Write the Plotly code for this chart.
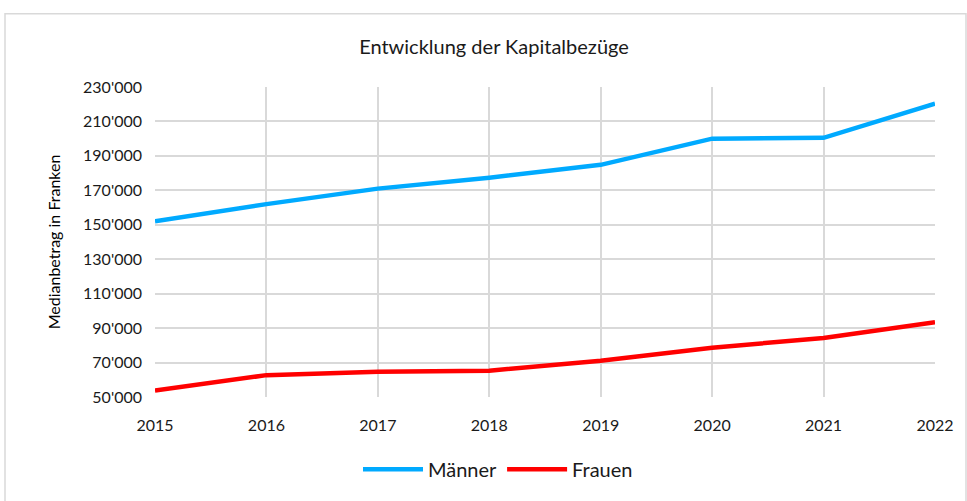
import plotly.graph_objects as go

years = [2015, 2016, 2017, 2018, 2019, 2020, 2021, 2022]
maenner = [152000, 162000, 171000, 177300, 184800, 200000, 200500, 220300]
frauen = [53700, 62700, 64600, 65300, 71000, 78600, 84300, 93400]
y_ticks = list(range(50000, 230001, 20000))

font = "Lato, Open Sans, Arial"

fig = go.Figure()
fig.add_trace(go.Scatter(x=years, y=maenner, mode="lines", name="Männer",
                         line=dict(color="#00AAFF", width=4.5)))
fig.add_trace(go.Scatter(x=years, y=frauen, mode="lines", name="Frauen",
                         line=dict(color="#FF0000", width=4.5)))

L, R, T, B = 155, 32, 87, 101
W, H = 967, 501
pw, ph = W - L - R, H - T - B

fig.update_layout(
    width=W, height=H,
    margin=dict(l=L, r=R, t=T, b=B),
    paper_bgcolor="white", plot_bgcolor="white",
    separators=".'",
    font=dict(family=font, size=16, color="#1a1a1a"),
    title=dict(text="Entwicklung der Kapitalbezüge", x=494 / W, xanchor="center", xref="container",
               y=1 - 47 / H, yanchor="middle", font=dict(size=20, color="#1a1a1a")),
    showlegend=True,
    legend=dict(orientation="h", x=(498 - L) / pw, xanchor="center",
                y=-(473 - 400) / ph, yanchor="middle", font=dict(size=20),
                itemwidth=60),
    xaxis=dict(range=[2015, 2022], tickvals=years, showgrid=True, gridcolor="#D9D9D9",
               gridwidth=1.5, zeroline=False, showline=False, ticks="",
               ticklabelstandoff=17, tickfont=dict(size=16)),
    yaxis=dict(range=[50000, 230000], tickvals=y_ticks, tickformat=",d", showgrid=True,
               gridcolor="#D9D9D9", gridwidth=1.5, zeroline=False, ticks="",
               ticklabelstandoff=12, tickfont=dict(size=16),
               title=dict(text="Medianbetrag in Franken", font=dict(size=16, color="black"), standoff=18)),
    shapes=[dict(type="rect", xref="paper", yref="paper",
                 x0=(5 - L) / pw, x1=(966 - L) / pw,
                 y0=(H - T - 520) / ph, y1=(H - T - B - 0 + (T - 13)) / ph,
                 line=dict(color="#D9D9D9", width=1.5), fillcolor="rgba(0,0,0,0)", layer="below")],
)

fig.write_html("out.html")
